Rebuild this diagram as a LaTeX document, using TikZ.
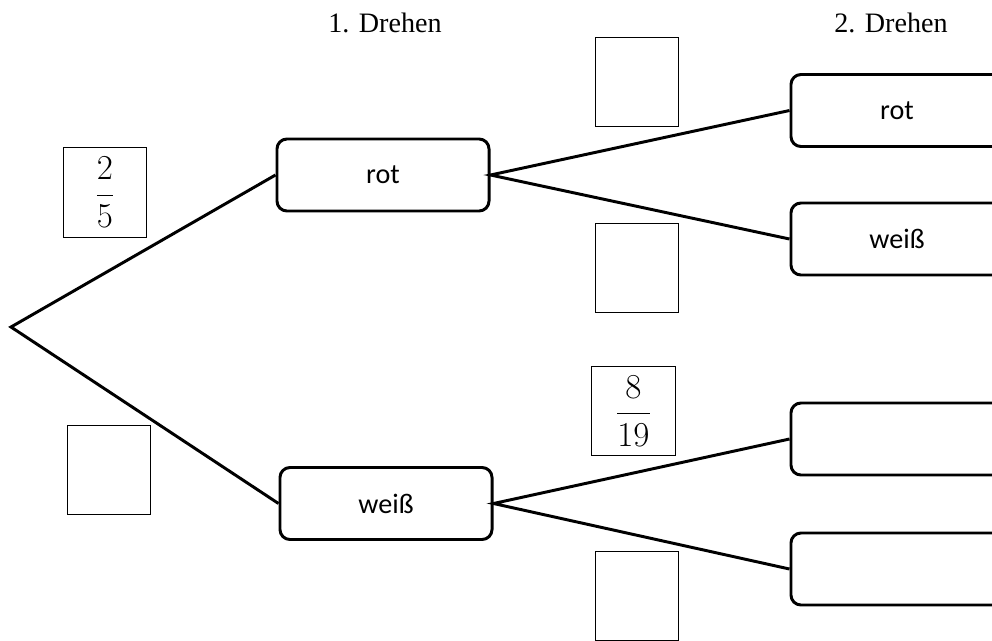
\documentclass[tikz,border=0pt]{standalone}
\usepackage{fontspec}
\setmainfont{Liberation Serif}
\newfontfamily\boxfont{Carlito}

\begin{document}
\begin{tikzpicture}[x=0.025cm, y=-0.025cm,
		stage/.style={draw, line width=2.1pt, rounded corners=0.25cm, minimum width=5.3cm, minimum height=1.8cm, inner sep=0pt, font=\boxfont\fontsize{20}{24}\selectfont},
		answer/.style={draw, line width=0.8pt, minimum width=2.08cm, minimum height=2.23cm, inner sep=0pt, font=\fontsize{23}{27}\selectfont},
		branch/.style={line width=2.1pt}]
			\useasboundingbox (0,0) rectangle (992,640);
			\clip (0,0) rectangle (992,640);

			% headings
			\node[font=\fontsize{20}{24}\selectfont] (head1) at (385,23) {1. Drehen};
			\node[font=\fontsize{20}{24}\selectfont] (head2) at (891,23) {2. Drehen};

			% first turn
			\coordinate (start) at (11,327);
			\node[stage] (rot1) at (383,175) {rot};
			\node[stage] (weiss1) at (386,503.5) {weiß};

			% second turn
			\node[stage] (rotrot) at (897,110.5) {rot};
			\node[stage] (rotweiss) at (897,239) {weiß};
			\node[stage] (weissrot) at (897,439) {};
			\node[stage] (weissweiss) at (897,569) {};

			% branches
			\draw[branch] (rot1.west) -- (start) -- (weiss1.west);
			\draw[branch] (rotrot.west) -- (rot1.east) -- (rotweiss.west);
			\draw[branch] (weissrot.west) -- (weiss1.east) -- (weissweiss.west);

			% probabilities
			\node[answer] (p1) at (105,192.5) {$\displaystyle\frac{2}{5}$};
			\node[answer] (p2) at (109,470) {};
			\node[answer] (p11) at (637,82) {};
			\node[answer] (p12) at (637,268) {};
			\node[answer] (p21) at (633.5,411) {$\displaystyle\frac{8}{19}$};
			\node[answer] (p22) at (637,596) {};

		\end{tikzpicture}
\end{document}
